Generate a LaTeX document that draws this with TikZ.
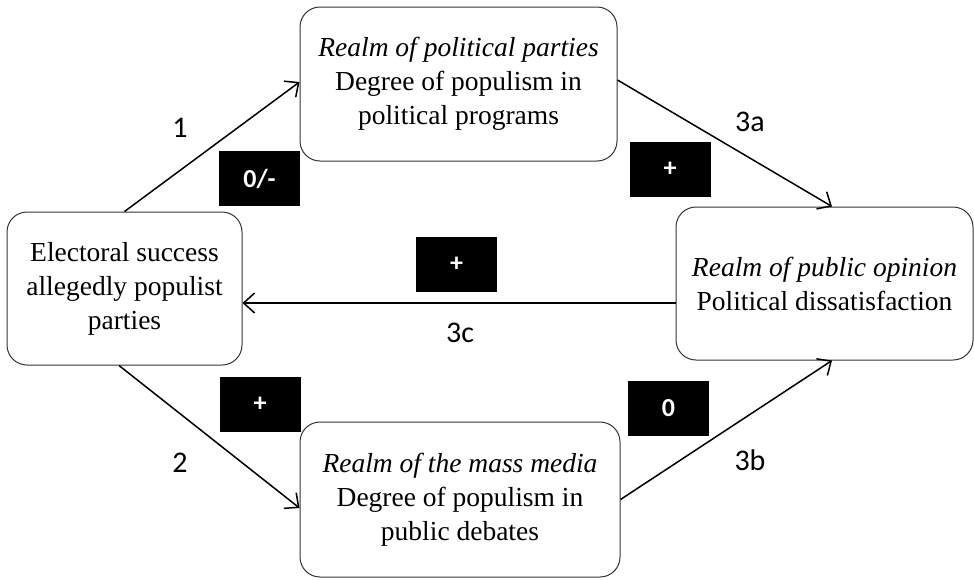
\documentclass[tikz,border=0pt]{standalone}
\usepackage{fontspec}
\setmainfont{Liberation Serif}
\newfontfamily\lblfont{Carlito}
\usetikzlibrary{arrows.meta}
\begin{document}
\begin{tikzpicture}[x=1pt,y=-1pt,
  realm/.style={draw=black!80, rounded corners=20pt, line width=1pt, align=center,
    inner sep=0pt, font=\fontsize{27.5}{34}\selectfont},
  sign/.style={fill=black, text=white, minimum width=81pt, minimum height=55pt,
    inner sep=0pt, font=\lblfont\bfseries\fontsize{26}{30}\selectfont},
  num/.style={font=\lblfont\fontsize{30}{34}\selectfont, inner sep=0pt},
  link/.style={line width=1.5pt, -{Straight Barb[length=11pt,width=20pt,line width=1.5pt]}}]
\useasboundingbox (0,0) rectangle (974,579);
\node[realm, minimum width=235pt, minimum height=153pt] (E) at (124.5,288.5)
  {Electoral success\\allegedly populist\\parties};
\node[realm, minimum width=317pt, minimum height=154pt] (P) at (458.5,84)
  {\textit{Realm of political parties}\\Degree of populism in\\political programs};
\node[realm, minimum width=297pt, minimum height=153pt] (O) at (824.5,283.5)
  {\textit{Realm of public opinion}\\Political dissatisfaction};
\node[realm, minimum width=320pt, minimum height=155pt] (M) at (460,499.5)
  {\textit{Realm of the mass media}\\Degree of populism in\\public debates};
\coordinate (c3cstart) at ([yshift=-19.5pt]O.west);
\coordinate (c3cend) at (E.east |- c3cstart);
\draw[link] (E.north) -- ([yshift=2pt]P.west);
\draw[link] ([yshift=4pt]P.east) -- ([xshift=7.5pt]O.north);
\draw[link] (c3cstart) -- (c3cend);
\draw[link] ([xshift=-5.5pt]E.south) -- ([yshift=-8.5pt]M.west);
\draw[link] (M.east) -- ([xshift=7.5pt]O.south);
\node[sign] (s1) at (259.5,178.5) {0/-};
\node[sign] (s3a) at (670,169.5) {+};
\node[sign] (s3c) at (456.5,264) {+};
\node[sign] (s2) at (260,404.5) {+};
\node[sign] (s3b) at (668.5,408.5) {0};
\node[num] (n1) at (180,128) {1};
\node[num] (n3a) at (750,122) {3a};
\node[num] (n3c) at (460,333) {3c};
\node[num] (n2) at (180,463) {2};
\node[num] (n3b) at (750,460) {3b};
\end{tikzpicture}
\end{document}
